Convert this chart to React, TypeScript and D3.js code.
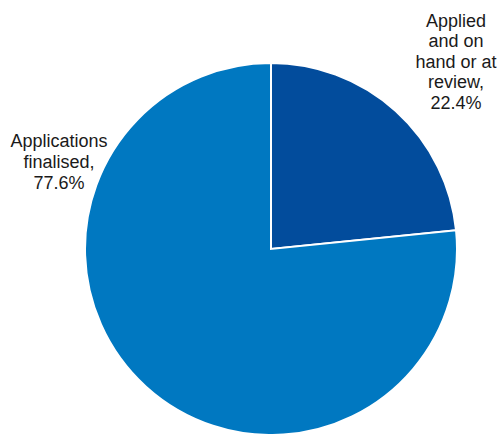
import { useEffect, useRef } from 'react';
import * as d3 from 'd3';

const categories = ['Applied and on hand or at review', 'Applications finalised'];
// share of the circle each wedge takes in the picture (the drawn wedge is a little wider than its 22.4% label)
const sliceShares = [23.4, 76.6];
const colors = ['#024C9C', '#0078C1'];
// label text split the way the reference wraps it
const labelLines = [
  ['Applied', 'and on', 'hand or at', 'review,', '22.4%'],
  ['Applications', 'finalised,', '77.6%'],
];

const width = 498;
const height = 434;

export default function App() {
  const svgRef = useRef<SVGSVGElement>(null);

  useEffect(() => {
    if (!svgRef.current) return;
    const svg = d3.select(svgRef.current);
    svg.selectAll('*').remove();

    const cx = 271;
    const cy = 249;
    const radius = 186;

    const data = categories.map((name, i) => ({ name, value: sliceShares[i], lines: labelLines[i] }));
    const pie = d3
      .pie<{ name: string; value: number; lines: string[] }>()
      .value((d) => d.value)
      .sort(null);
    const arc = d3
      .arc<d3.PieArcDatum<{ name: string; value: number; lines: string[] }>>()
      .innerRadius(0)
      .outerRadius(radius);

    const g = svg.append('g').attr('transform', `translate(${cx},${cy})`);
    g.selectAll('path')
      .data(pie(data))
      .join('path')
      .attr('d', arc)
      .attr('fill', (_, i) => colors[i])
      .attr('stroke', '#fff')
      .attr('stroke-width', 2);

    // label anchor points (centre of text block, first baseline)
    const labelPos = [
      { x: 456, y: 27, step: 20.4 },
      { x: 59, y: 147, step: 21 },
    ];
    data.forEach((d, i) => {
      const t = svg
        .append('text')
        .attr('text-anchor', 'middle')
        .attr('font-family', 'Liberation Sans, Arial, sans-serif')
        .attr('font-size', 18)
        .attr('fill', '#1a1a1a');
      d.lines.forEach((line, j) => {
        t.append('tspan')
          .attr('x', labelPos[i].x)
          .attr('y', labelPos[i].y + j * labelPos[i].step)
          .text(line);
      });
    });
  }, []);

  return (
    <svg
      ref={svgRef}
      width={width}
      height={height}
      style={{ position: 'absolute', left: 0, top: 0, background: '#fff' }}
    />
  );
}
